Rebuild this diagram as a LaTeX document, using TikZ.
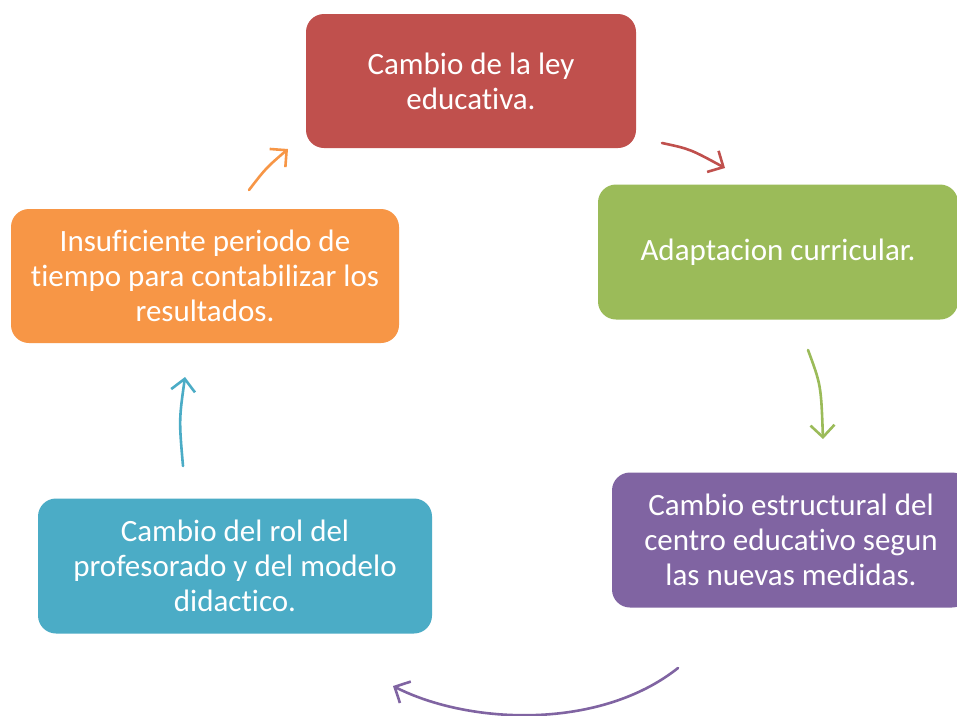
\documentclass[tikz,border=0pt]{standalone}
\usepackage{fontspec}
\setmainfont{Carlito}[RawFeature=-liga]
\usetikzlibrary{arrows.meta}
\definecolor{cred}{HTML}{C0504D}
\definecolor{cgreen}{HTML}{9BBB59}
\definecolor{cpurple}{HTML}{8064A2}
\definecolor{cblue}{HTML}{4BACC6}
\definecolor{corange}{HTML}{F79646}
\tikzset{
  box/.style={draw=none, rounded corners=18pt, text=white, align=center,
    font=\fontsize{31}{35}\selectfont, inner sep=0pt},
  cyc/.style={line width=2.6pt, line cap=round,
    -{Straight Barb[length=12pt, width=24pt, line width=2.6pt]}}
}
\begin{document}
\begin{tikzpicture}[x=1pt, y=-1pt]
\useasboundingbox (0,0) rectangle (957,715);
\clip (0,0) rectangle (957,715);
\fill[white] (0,0) rectangle (957,715);
\node[box, fill=cred, minimum width=330pt, minimum height=134pt] (n1) at (471,81) {Cambio de la ley\\educativa.};
\node[box, fill=cgreen, minimum width=360pt, minimum height=135pt] (n2) at (778,252) {Adaptacion curricular.};
\node[box, fill=cpurple, minimum width=358pt, minimum height=135pt] (n3) at (791,540) {Cambio estructural del\\centro educativo segun\\las nuevas medidas.};
\node[box, fill=cblue, minimum width=394pt, minimum height=135pt] (n4) at (235,566) {Cambio del rol del\\profesorado y del modelo\\didactico.};
\node[box, fill=corange, minimum width=388pt, minimum height=134pt] (n5) at (205,276) {Insuficiente periodo de\\tiempo para contabilizar los\\resultados.};
\coordinate (a1s) at (662,143);
\coordinate (a1e) at (725,168);
\coordinate (a2s) at (808,350);
\coordinate (a2e) at (823,439);
\coordinate (a3s) at (678,668);
\coordinate (a3e) at (393,686);
\coordinate (a4s) at (183,466);
\coordinate (a4e) at (185,377);
\coordinate (a5s) at (249,190);
\coordinate (a5e) at (288,149);
\draw[cyc, cred] (a1s) .. controls (690,149) .. (a1e);
\draw[cyc, cgreen] (a2s) .. controls (821,385) .. (a2e);
\draw[cyc, cpurple] (a3s) .. controls (600,730) and (470,725) .. (a3e);
\draw[cyc, cblue] (a4s) .. controls (179,420) .. (a4e);
\draw[cyc, corange] (a5s) .. controls (266,168) .. (a5e);
\end{tikzpicture}
\end{document}
